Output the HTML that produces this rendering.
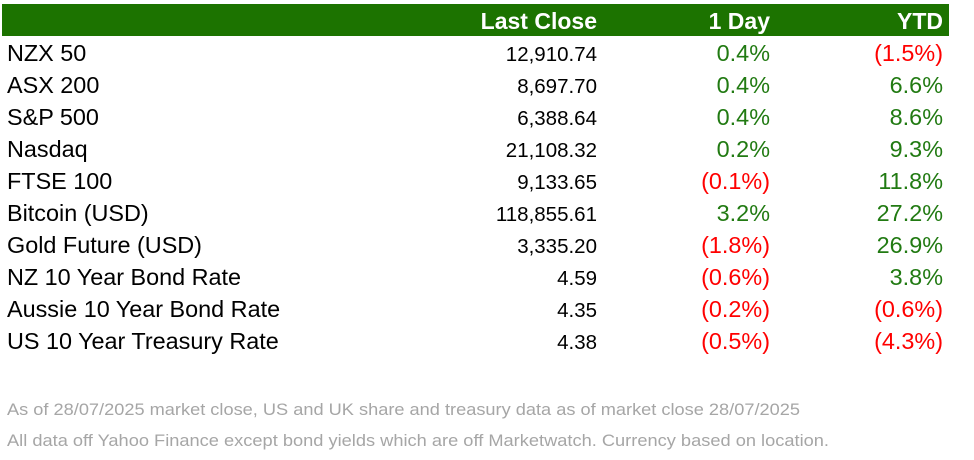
<!DOCTYPE html>
<html><head><meta charset="utf-8"><style>
body{margin:0;background:#fff;width:974px;height:460px;overflow:hidden;font-family:"Liberation Sans",Arial,sans-serif}
</style></head><body>
<svg width="974" height="460" style="position:absolute;left:0;top:0">
<rect x="2" y="4" width="947" height="32" fill="#1c7300"/>
<g font-weight="bold" font-size="23" fill="#fff" text-anchor="end">
<text x="597" y="29">Last Close</text>
<text x="770" y="29">1 Day</text>
<text x="943" y="29">YTD</text>
</g>
<g id="rows" font-size="20.5"></g>
<g font-size="17" fill="#a6a6a6">
<text x="7" y="415" textLength="793" lengthAdjust="spacingAndGlyphs">As of 28/07/2025 market close, US and UK share and treasury data as of market close 28/07/2025</text>
<text x="7" y="446" textLength="822" lengthAdjust="spacingAndGlyphs">All data off Yahoo Finance except bond yields which are off Marketwatch. Currency based on location.</text>
</g>
</svg>
<script>
const names=["NZX 50","ASX 200","S&P 500","Nasdaq","FTSE 100","Bitcoin (USD)","Gold Future (USD)","NZ 10 Year Bond Rate","Aussie 10 Year Bond Rate","US 10 Year Treasury Rate"];
const closes=["12,910.74","8,697.70","6,388.64","21,108.32","9,133.65","118,855.61","3,335.20","4.59","4.35","4.38"];
const day=[0.4,0.4,0.4,0.2,-0.1,3.2,-1.8,-0.6,-0.2,-0.5];
const ytd=[-1.5,6.6,8.6,9.3,11.8,27.2,26.9,3.8,-0.6,-4.3];
const g=document.getElementById('rows');
const NS='http://www.w3.org/2000/svg';
function fmt(v){return v<0?'('+Math.abs(v).toFixed(1)+'%)':v.toFixed(1)+'%';}
function t(x,y,s,fill,anchor,size,name){
  const e=document.createElementNS(NS,'text');
  e.setAttribute('x',x);e.setAttribute('y',y);e.setAttribute('fill',fill);
  e.setAttribute('font-size',size);
  if(anchor)e.setAttribute('text-anchor',anchor);
  e.textContent=s;
  
  
  g.appendChild(e);
}
names.forEach((n,i)=>{
  const y=61+32*i;
  t(7,y,n,'#000',null,23.4,'row-label');
  t(597,y,closes[i],'#000','end',20.5,'last-close-value');
  t(770,y,fmt(day[i]),day[i]<0?'#ff0000':'#217a12','end',23.4,'one-day-change');
  t(943,y,fmt(ytd[i]),ytd[i]<0?'#ff0000':'#217a12','end',23.4,'ytd-change');
});
</script>
</body></html>
